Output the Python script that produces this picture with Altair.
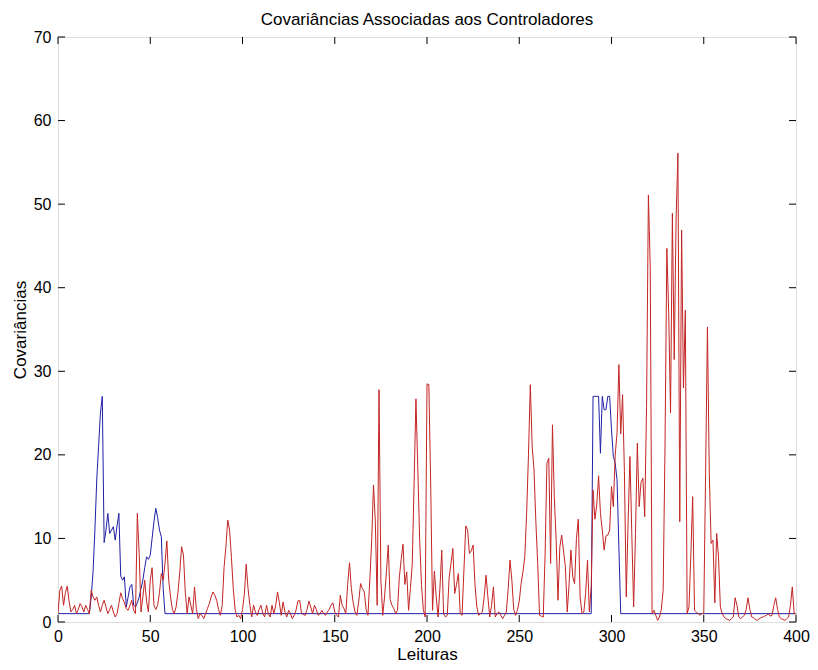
import altair as alt
import pandas as pd

# ---------------- data ----------------
readings = list(range(401))

red = [
    1.0, 3.8, 4.3, 2.0, 3.5, 4.3, 2.5, 1.2, 1.5, 2.0,
    1.0, 1.5, 2.2, 1.8, 1.2, 2.0, 1.5, 1.0, 3.8, 3.0,
    2.6, 3.0, 2.0, 1.2, 2.0, 2.6, 1.8, 1.0, 1.5, 2.0,
    1.2, 0.6, 1.0, 2.2, 3.5, 2.8, 2.3, 1.6, 1.4, 2.0,
    2.6, 1.4, 1.0, 13.0, 8.2, 1.2, 3.0, 5.0, 2.5, 1.2,
    5.0, 6.5, 2.0, 1.5, 2.0, 3.5, 5.8, 5.0, 7.0, 9.7,
    5.0, 3.0, 1.5, 1.0, 1.8, 3.5, 6.0, 9.0, 8.0, 3.5,
    1.0, 3.0, 2.0, 1.0, 4.2, 1.5, 0.4, 1.0, 0.8, 0.4,
    1.0, 1.6, 2.2, 3.0, 3.6, 3.2, 2.6, 1.5, 0.8, 2.0,
    6.5, 9.0, 12.2, 11.0, 7.7, 4.0, 1.5, 0.6, 0.8, 0.4,
    1.5, 3.3, 6.9, 4.0, 2.0, 0.6, 2.0, 1.2, 0.8, 1.5,
    2.0, 1.0, 0.6, 2.0, 1.0, 0.6, 2.0, 1.0, 2.0, 3.6,
    2.3, 0.8, 2.4, 1.2, 0.6, 1.4, 1.0, 0.4, 0.8, 1.4,
    2.5, 2.6, 1.0, 0.9, 0.8, 1.5, 2.5, 1.8, 1.0, 2.0,
    1.5, 0.8, 1.0, 1.4, 1.0, 0.8, 1.2, 1.5, 2.0, 2.3,
    1.2, 0.8, 0.6, 3.2, 2.0, 1.6, 1.0, 4.5, 7.1, 4.0,
    2.3, 1.2, 0.8, 2.5, 4.6, 4.0, 3.6, 1.5, 0.8, 5.0,
    9.6, 16.4, 12.0, 2.0, 27.8, 5.0, 0.8, 3.0, 6.0, 9.2,
    2.7, 2.0, 1.6, 1.0, 1.4, 5.3, 7.5, 9.3, 4.5, 6.0,
    1.4, 4.0, 6.9, 16.5, 26.7, 18.5, 10.0, 4.5, 1.5, 0.6,
    28.5, 28.4, 16.5, 1.4, 6.1, 3.0, 0.6, 4.0, 8.6, 1.0,
    0.6, 0.8, 5.3, 7.0, 8.8, 3.4, 4.5, 5.8, 1.0, 0.8,
    6.1, 11.5, 11.0, 8.2, 8.5, 9.2, 4.5, 1.8, 0.8, 1.0,
    1.2, 3.0, 5.6, 3.0, 0.6, 2.0, 4.2, 0.6, 1.0, 1.2,
    0.8, 0.4, 0.8, 1.2, 4.0, 7.4, 5.0, 1.5, 0.8, 1.4,
    2.5, 4.6, 6.0, 7.8, 13.0, 20.0, 28.4, 21.0, 18.2, 12.0,
    7.0, 0.8, 0.7, 0.6, 8.0, 19.0, 19.6, 7.0, 23.6, 15.0,
    9.8, 2.6, 9.0, 10.4, 8.5, 6.6, 1.2, 4.5, 8.6, 5.4,
    4.6, 10.0, 12.3, 3.0, 1.0, 1.2, 3.5, 7.4, 1.2, 4.2,
    15.8, 12.3, 14.0, 17.5, 13.0, 11.0, 8.6, 10.3, 10.4, 11.0,
    16.2, 13.8, 20.0, 22.6, 30.8, 22.5, 27.2, 18.0, 3.0, 12.0,
    19.8, 10.6, 1.8, 10.6, 21.4, 13.8, 16.7, 17.2, 12.6, 25.8,
    51.1, 42.5, 1.0, 1.4, 0.8, 0.2, 0.6, 1.5, 3.8, 21.0,
    44.7, 37.0, 25.0, 48.9, 31.4, 48.1, 56.1, 12.0, 46.9, 28.0,
    37.3, 1.0, 1.8, 8.0, 15.0, 1.4, 1.2, 1.0, 0.8, 1.0,
    1.0, 17.8, 35.3, 17.8, 9.4, 9.8, 2.3, 10.6, 7.8, 1.8,
    1.0, 0.6, 0.4, 0.3, 0.2, 0.4, 0.6, 2.9, 2.0, 0.6,
    0.4, 0.6, 0.8, 1.5, 2.9, 1.5, 0.6, 0.5, 0.3, 0.2,
    0.4, 0.5, 0.6, 0.7, 0.8, 1.0, 0.7, 0.8, 2.0, 2.9,
    1.5, 0.6, 0.4, 0.3, 0.2, 0.4, 0.6, 2.0, 4.2, 1.0,
    1.0,
]

blue_x = [0, 17,
          18, 19, 20, 21, 22, 23, 24, 25, 26, 27,
          28, 29, 30, 31, 32, 33, 34, 35, 36, 37,
          38, 39, 40, 41, 42, 43, 44, 45, 46, 47,
          48, 49, 50, 51, 52, 53, 54, 55, 56, 57,
          58,
          289, 290, 291, 292, 293, 294, 295, 296, 297, 298,
          299, 300, 301, 302, 303, 304, 305,
          400]
blue_y = [1.0, 1.0,
          3.0, 6.0, 11.0, 17.0, 21.0, 25.0, 27.0, 9.5, 11.0, 13.0,
          10.6, 11.0, 11.4, 9.8, 11.5, 13.0, 5.5, 5.0, 5.4, 1.8,
          3.0, 4.2, 4.5, 2.0, 1.8, 2.3, 3.0, 4.0, 5.0, 6.5,
          7.8, 7.5, 8.0, 10.0, 12.0, 13.6, 12.5, 11.0, 10.2, 4.0,
          1.0,
          1.0, 27.0, 27.0, 27.0, 27.0, 20.2, 27.0, 25.4, 25.4, 27.0,
          27.0, 23.0, 19.8, 19.0, 17.0, 9.0, 1.0,
          1.0]

x_ticks = [0, 50, 100, 150, 200, 250, 300, 350, 400]
y_ticks = [0, 10, 20, 30, 40, 50, 60, 70]

TITLE = "Covariâncias Associadas aos Controladores"
XTITLE = "Leituras"
YTITLE = "Covariâncias"

# ---------------- styling ----------------
W, H = 738, 585
FONT = "Liberation Sans"
FS_LAB = 16
FS_TIT = 17
BLUE = "#1f1fa6"
RED = "#c42424"
TICK = 7

red_df = pd.DataFrame({"x": readings, "v": red})
blue_df = pd.DataFrame({"x": blue_x, "v": blue_y})
xt_df = pd.DataFrame({"x": x_ticks})
yt_df = pd.DataFrame({"v": y_ticks})

x_scale = alt.Scale(domain=[0, 400], nice=False, zero=False)
y_scale = alt.Scale(domain=[0, 70], nice=False, zero=False)

x_axis = alt.Axis(values=x_ticks, ticks=False, domain=False, grid=False,
                  labelFont=FONT, labelFontSize=FS_LAB, labelColor="black",
                  labelPadding=6, labelFlush=False,
                  title=XTITLE, titleFont=FONT, titleFontSize=FS_TIT,
                  titleFontWeight="normal", titleColor="black",
                  titleX=W / 2, titleY=32, titleBaseline="middle",
                  titleAlign="center")
y_axis = alt.Axis(values=y_ticks, ticks=False, domain=False, grid=False,
                  labelFont=FONT, labelFontSize=FS_LAB, labelColor="black",
                  labelPadding=7, labelFlush=False,
                  title=YTITLE, titleFont=FONT, titleFontSize=FS_TIT,
                  titleFontWeight="normal", titleColor="black",
                  titleX=-38, titleY=H / 2, titleAngle=-90,
                  titleBaseline="middle", titleAlign="center")


def X(field):
    return alt.X(f"{field}:Q", scale=x_scale, axis=x_axis)


def Y(field):
    return alt.Y(f"{field}:Q", scale=y_scale, axis=y_axis)


blue_line = alt.Chart(blue_df).mark_line(color=BLUE, strokeWidth=1, clip=True).encode(
    x=X("x"), y=Y("v"))
red_line = alt.Chart(red_df).mark_line(color=RED, strokeWidth=1, clip=True).encode(
    x=X("x"), y=Y("v"))

xt_bottom = alt.Chart(xt_df).mark_rule(color="black", strokeWidth=1).encode(
    x=X("x"), y=alt.value(H), y2=alt.value(H - TICK))
xt_top = alt.Chart(xt_df).mark_rule(color="black", strokeWidth=1).encode(
    x=X("x"), y=alt.value(0), y2=alt.value(TICK))
yt_left = alt.Chart(yt_df).mark_rule(color="black", strokeWidth=1).encode(
    y=Y("v"), x=alt.value(0), x2=alt.value(TICK))
yt_right = alt.Chart(yt_df).mark_rule(color="black", strokeWidth=1).encode(
    y=Y("v"), x=alt.value(W), x2=alt.value(W - TICK))

chart = alt.layer(blue_line, red_line, xt_bottom, xt_top, yt_left, yt_right).properties(
    width=W, height=H,
    title=alt.TitleParams(TITLE, font=FONT, fontSize=FS_TIT, fontWeight="normal",
                          color="black", anchor="middle", frame="group",
                          offset=0),
    autosize=alt.AutoSizeParams(type="none"),
    padding={"left": 50, "top": 29, "right": 14, "bottom": 40},
).configure_view(stroke="black", strokeWidth=1).configure(background="white")

chart.save("out.html", embed_options={"renderer": "svg", "actions": False})
